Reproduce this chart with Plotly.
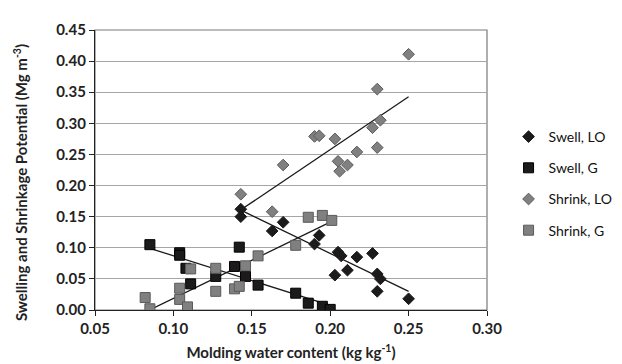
import numpy as np
import plotly.graph_objects as go

# ---- data ----
swell_lo_x = [0.143, 0.143, 0.163, 0.170, 0.190, 0.193, 0.203, 0.205, 0.207, 0.211, 0.217, 0.227, 0.230, 0.230, 0.232, 0.250]
swell_lo_y = [0.162, 0.150, 0.127, 0.141, 0.106, 0.120, 0.056, 0.093, 0.087, 0.064, 0.085, 0.091, 0.058, 0.030, 0.050, 0.018]

swell_g_x = [0.085, 0.104, 0.104, 0.108, 0.111, 0.127, 0.139, 0.142, 0.146, 0.154, 0.178, 0.186, 0.195, 0.200]
swell_g_y = [0.105, 0.092, 0.088, 0.067, 0.042, 0.054, 0.070, 0.101, 0.054, 0.040, 0.027, 0.011, 0.006, 0.001]

shrink_lo_x = [0.143, 0.163, 0.170, 0.190, 0.193, 0.203, 0.205, 0.206, 0.211, 0.217, 0.227, 0.230, 0.230, 0.232, 0.250]
shrink_lo_y = [0.186, 0.158, 0.233, 0.279, 0.280, 0.275, 0.239, 0.223, 0.233, 0.254, 0.293, 0.355, 0.261, 0.305, 0.411]

shrink_g_x = [0.082, 0.085, 0.104, 0.104, 0.109, 0.111, 0.127, 0.127, 0.139, 0.142, 0.146, 0.154, 0.178, 0.186, 0.195, 0.201]
shrink_g_y = [0.020, 0.002, 0.035, 0.017, 0.005, 0.066, 0.067, 0.030, 0.034, 0.038, 0.071, 0.087, 0.104, 0.149, 0.152, 0.144]

series_names = ["Swell, LO", "Swell, G", "Shrink, LO", "Shrink, G"]

FONT = "Lato"
BLACK = "#1c1a1b"
GRAY = "#808080"
GRAY_EDGE = "#5a5a5a"

styles = [
    dict(symbol="diamond", size=9, color=BLACK, line=dict(color=BLACK, width=1)),
    dict(symbol="square", size=10, color=BLACK, line=dict(color="#000000", width=1)),
    dict(symbol="diamond", size=9, color=GRAY, line=dict(color=GRAY_EDGE, width=1)),
    dict(symbol="square", size=10, color=GRAY, line=dict(color=GRAY_EDGE, width=1)),
]
datasets = [
    (swell_lo_x, swell_lo_y),
    (swell_g_x, swell_g_y),
    (shrink_lo_x, shrink_lo_y),
    (shrink_g_x, shrink_g_y),
]

fig = go.Figure()

# trendlines (linear regression of each series)
for (xs, ys) in datasets:
    xs_a = np.array(xs)
    ys_a = np.array(ys)
    m, b = np.polyfit(xs_a, ys_a, 1)
    lx = np.array([xs_a.min(), xs_a.max()])
    fig.add_trace(go.Scatter(x=lx, y=m * lx + b, mode="lines",
                             line=dict(color="#1a1a1a", width=1.3),
                             showlegend=False, hoverinfo="skip"))

for name, (xs, ys), st in zip(series_names, datasets, styles):
    fig.add_trace(go.Scatter(x=xs, y=ys, mode="markers", name=name,
                             legendgroup=name, marker=st))

fig.update_layout(
    width=622, height=364,
    margin=dict(l=87, r=129, t=12, b=62),
    paper_bgcolor="white", plot_bgcolor="white",
    font=dict(family=FONT, color="#222222"),
    legend=dict(x=1.055, y=0.675, xanchor="left", yanchor="top",
                font=dict(family=FONT, size=14, color="#111111"),
                tracegroupgap=10, traceorder="grouped",
                bgcolor="rgba(0,0,0,0)"),
    xaxis=dict(range=[0.05, 0.30], dtick=0.05, tick0=0.05, tickformat=".2f",
               showgrid=False, zeroline=False, showline=True,
               linecolor="#222222", linewidth=1.3,
               ticks="outside", ticklen=5, tickcolor="#222222",
               tickfont=dict(family=FONT, size=15, color="#222222", weight="bold"),
               title=dict(text="Molding water content (kg kg<sup>-1</sup>)",
                          font=dict(family=FONT, size=15, color="#222222", weight="bold"),
                          standoff=11)),
    yaxis=dict(range=[0, 0.45], dtick=0.05, tickformat=".2f",
               showgrid=True, gridcolor="#a6a6a6", gridwidth=1,
               zeroline=False, showline=True,
               linecolor="#222222", linewidth=1.3,
               ticks="outside", ticklen=5, tickcolor="#222222",
               tickfont=dict(family=FONT, size=15, color="#222222", weight="bold")),
    shapes=[dict(type="rect", xref="paper", yref="paper", x0=0, x1=1, y0=0, y1=1,
                 line=dict(color="#7a7a7a", width=1.2), layer="below")],
    annotations=[dict(text="Swelling and Shrinkage Potential (Mg m<sup>-3</sup>)",
                      xref="paper", yref="paper", x=-0.19, y=0.455,
                      xanchor="center", yanchor="middle", textangle=-90,
                      showarrow=False,
                      font=dict(family=FONT, size=15, color="#222222", weight="bold"))],
)

fig.write_html("out.html")
